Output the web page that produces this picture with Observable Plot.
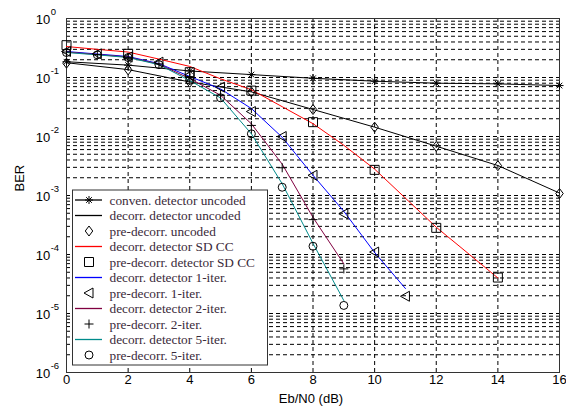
<!DOCTYPE html>
<html>
<head>
<meta charset="utf-8">
<script src="https://cdn.jsdelivr.net/npm/d3@7"></script>
<script src="https://cdn.jsdelivr.net/npm/@observablehq/plot@0.6"></script>
<style>
  html, body { margin: 0; padding: 0; background: #fff; }
  #chart { width: 566px; height: 409px; }
</style>
</head>
<body>
<div id="chart"></div>
<script>
// ---------- data ----------
const xTicks = [0, 2, 4, 6, 8, 10, 12, 14, 16];
const yDecades = [1e-6, 1e-5, 1e-4, 1e-3, 1e-2, 1e-1, 1];
const xLabel = "Eb/N0 (dB)";
const yLabel = "BER";

// conven. detector uncoded (line + asterisk)
const convenX = [0, 2, 4, 6, 8, 10, 12, 14, 16];
const conven = [0.185, 0.162, 0.129, 0.112, 0.097, 0.0866, 0.080, 0.078, 0.073];

// decorr. detector uncoded (black line) / pre-decorr. uncoded (diamonds)
const uncodedX = [0, 2, 4, 6, 8, 10, 12, 14, 16];
const decorrUncoded = [0.178, 0.136, 0.084, 0.057, 0.0287, 0.0144, 0.00685, 0.00322, 0.0011];
const preUncoded = [0.175, 0.135, 0.083, 0.057, 0.0287, 0.0144, 0.0068, 0.0032, 0.00108];

// decorr. detector SD CC (red line) / pre-decorr. detector SD CC (squares)
const sdLineX = [0, 1, 2, 3, 4, 5, 6, 7, 8, 9, 10, 11, 12, 13, 14];
const decorrSD = [0.335, 0.30, 0.27, 0.205, 0.154, 0.095, 0.062, 0.032, 0.0165, 0.0071, 0.0028, 0.0009, 2.9e-4, 1.08e-4, 4e-5];
const sdMarkX = [0, 2, 4, 6, 8, 10, 12, 14];
const preSD = [0.353, 0.252, 0.123, 0.060, 0.0175, 0.00272, 2.83e-4, 4.07e-5];

// 1 iteration (blue line / left triangles)
const it1X = [0, 1, 2, 3, 4, 5, 6, 7, 8, 9, 10, 11];
const decorr1 = [0.276, 0.25, 0.227, 0.172, 0.104, 0.064, 0.0298, 0.0097, 0.0022, 5.4e-4, 1.08e-4, 2.65e-5];
const pre1 = [0.276, 0.252, 0.222, 0.182, 0.11, 0.0685, 0.0265, 0.010, 0.0022, 4.9e-4, 1.1e-4, 1.96e-5];

// 2 iterations (purple line / plus)
const it2X = [0, 1, 2, 3, 4, 5, 6, 7, 8, 9];
const decorr2 = [0.27, 0.245, 0.222, 0.168, 0.096, 0.05, 0.0164, 0.0034, 4.25e-4, 6.95e-5];
const pre2 = [0.27, 0.245, 0.22, 0.17, 0.1, 0.05, 0.0154, 0.00295, 3.9e-4, 5.7e-5];

// 5 iterations (teal line / circles)
const it5X = [0, 1, 2, 3, 4, 5, 6, 7, 8, 9];
const decorr5 = [0.265, 0.242, 0.218, 0.165, 0.089, 0.045, 0.0111, 0.00158, 1.54e-4, 1.66e-5];
const pre5 = [0.265, 0.242, 0.218, 0.165, 0.09, 0.0453, 0.0111, 0.00138, 1.38e-4, 1.37e-5];

const legendLabels = [
  "conven. detector uncoded",
  "decorr. detector uncoded",
  "pre-decorr. uncoded",
  "decorr. detector SD CC",
  "pre-decorr. detector SD CC",
  "decorr. detector 1-iter.",
  "pre-decorr. 1-iter.",
  "decorr. detector 2-iter.",
  "pre-decorr. 2-iter.",
  "decorr. detector 5-iter.",
  "pre-decorr. 5-iter."
];

// ---------- styles ----------
const RED = "#ff0000", BLUE = "#0000ff", PURPLE = "#800040", TEAL = "#008b8b";

// MATLAB-like marker shapes
const symStar = {draw(c, s) { const r = Math.sqrt(s / Math.PI), d = r * 0.7071;
  c.moveTo(-r, 0); c.lineTo(r, 0); c.moveTo(0, -r); c.lineTo(0, r);
  c.moveTo(-d, -d); c.lineTo(d, d); c.moveTo(-d, d); c.lineTo(d, -d); }};
const symDiamond = {draw(c, s) { const r = Math.sqrt(s / Math.PI);
  c.moveTo(0, -r); c.lineTo(r * 0.75, 0); c.lineTo(0, r); c.lineTo(-r * 0.75, 0); c.closePath(); }};
const symSquare = {draw(c, s) { const r = Math.sqrt(s / Math.PI);
  c.moveTo(-r, -r); c.lineTo(r, -r); c.lineTo(r, r); c.lineTo(-r, r); c.closePath(); }};
const symLeftTri = {draw(c, s) { const r = Math.sqrt(s / Math.PI);
  c.moveTo(-r, 0); c.lineTo(r * 0.8, -r); c.lineTo(r * 0.8, r); c.closePath(); }};
const symPlus = {draw(c, s) { const r = Math.sqrt(s / Math.PI);
  c.moveTo(-r, 0); c.lineTo(r, 0); c.moveTo(0, -r); c.lineTo(0, r); }};
const symCircle = {draw(c, s) { const r = Math.sqrt(s / Math.PI);
  c.moveTo(r, 0); c.arc(0, 0, r, 0, 2 * Math.PI); }};

// series table used for marks + legend
const series = [
  {label: legendLabels[0], x: convenX, y: conven, color: "#000", line: true, sym: symStar, r: 4},
  {label: legendLabels[1], x: uncodedX, y: decorrUncoded, color: "#000", line: true},
  {label: legendLabels[2], x: uncodedX, y: preUncoded, color: "#000", sym: symDiamond, r: 5},
  {label: legendLabels[3], x: sdLineX, y: decorrSD, color: RED, line: true},
  {label: legendLabels[4], x: sdMarkX, y: preSD, color: "#000", sym: symSquare, r: 4.5},
  {label: legendLabels[5], x: it1X, y: decorr1, color: BLUE, line: true},
  {label: legendLabels[6], x: it1X, y: pre1, color: "#000", sym: symLeftTri, r: 5},
  {label: legendLabels[7], x: it2X, y: decorr2, color: PURPLE, line: true},
  {label: legendLabels[8], x: it2X, y: pre2, color: "#000", sym: symPlus, r: 4.5},
  {label: legendLabels[9], x: it5X, y: decorr5, color: TEAL, line: true},
  {label: legendLabels[10], x: it5X, y: pre5, color: "#000", sym: symCircle, r: 4}
];

// grid positions (log minor grid like MATLAB)
const yGrid = [];
for (const d of yDecades.slice(0, -1)) for (let k = 1; k <= 9; k++) yGrid.push(d * k);
yGrid.push(1);
const xGrid = xTicks;

const lineMarks = series.filter(s => s.line).map(s =>
  Plot.line(s.y, {x: s.x, y: s.y, stroke: s.color, strokeWidth: 1}));
const dotMarks = series.filter(s => s.sym).map(s =>
  Plot.dot(s.y, {x: s.x, y: s.y, symbol: s.sym, r: s.r, stroke: "#000", fill: "none", strokeWidth: 1}));

const chart = Plot.plot({
  width: 566,
  height: 409,
  marginLeft: 66,
  marginRight: 7,
  marginTop: 18,
  marginBottom: 37,
  style: {fontFamily: "'Liberation Sans', Arial, sans-serif", fontSize: "13px", background: "#fff", color: "#000"},
  x: {domain: [0, 16], axis: null},
  y: {type: "log", domain: [1e-6, 1], axis: null},
  marks: [
    Plot.ruleY(yGrid, {y: d => d, stroke: "#000", strokeOpacity: 1, strokeDasharray: "4,3"}),
    Plot.ruleX(xGrid, {x: d => d, stroke: "#000", strokeOpacity: 1, strokeDasharray: "4,3"}),
    Plot.frame({stroke: "#333", strokeWidth: 1}),
    ...lineMarks,
    ...dotMarks,
    // x tick labels
    Plot.text(xTicks, {x: d => d, frameAnchor: "bottom", dy: 11, text: d => String(d), fontSize: 13}),
    // y tick labels: 10 with superscript exponent
    Plot.text(yDecades, {y: d => d, frameAnchor: "left", dx: -16.3, dy: 1, textAnchor: "end", text: () => "10", fontSize: 13}),
    Plot.text(yDecades, {y: d => d, frameAnchor: "left", dx: -15.8, dy: -6.3, textAnchor: "start", text: d => String(Math.round(Math.log10(d))), fontSize: 9.5}),
    // axis labels
    Plot.text([xLabel], {frameAnchor: "bottom", dx: -2, dy: 30, text: d => d, fontSize: 13}),
    Plot.text([yLabel], {frameAnchor: "left", dx: -47, dy: -4, rotate: -90, text: d => d, fontSize: 13})
  ]
});
document.getElementById("chart").appendChild(chart);

// ---------- legend (inside plot, lower-left) ----------
const svg = d3.select(chart.tagName.toLowerCase() === "svg" ? chart : chart.querySelector("svg"));
const lg = svg.append("g").attr("class", "legend").attr("text-anchor", "start");
const L = {x: 72.5, y: 190, w: 195, h: 175, first: 200, step: 15.5};
lg.append("rect").attr("x", L.x).attr("y", L.y).attr("width", L.w).attr("height", L.h)
  .attr("fill", "#fff").attr("stroke", "#333").attr("stroke-width", 1);
series.forEach((s, i) => {
  const yy = L.first + i * L.step;
  if (s.line) lg.append("line").attr("x1", 75).attr("x2", 102).attr("y1", yy).attr("y2", yy)
    .attr("stroke", s.color).attr("stroke-width", 1.3);
  if (s.sym) lg.append("path").attr("transform", `translate(89,${yy})`)
    .attr("d", d3.symbol(s.sym, Math.PI * s.r * s.r)())
    .attr("fill", "none").attr("stroke", "#000").attr("stroke-width", 1);
  lg.append("text").attr("x", 109.5).attr("y", yy).attr("dy", "0.35em")
    .attr("text-anchor", "start")
    .attr("font-family", "'Liberation Serif', 'Times New Roman', serif").attr("font-size", 13.3)
    .attr("fill", "#3a2a3a").text(s.label);
});
</script>
</body>
</html>
